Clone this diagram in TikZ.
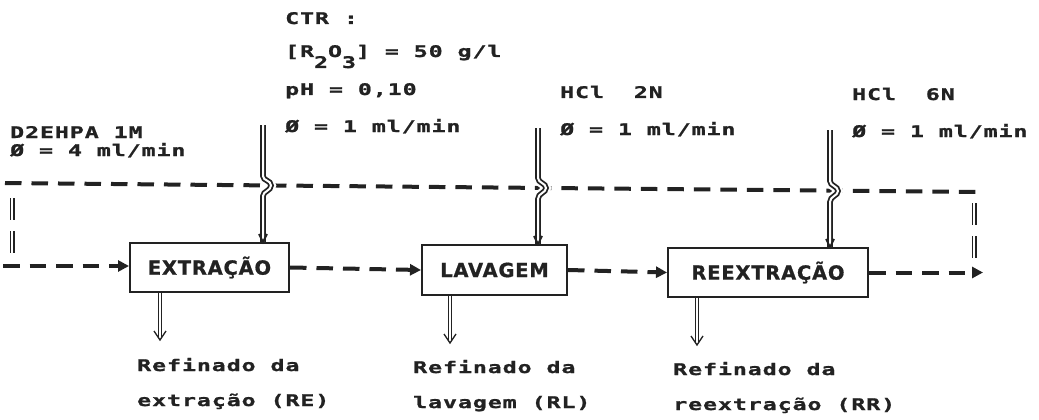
\documentclass[tikz,border=0pt]{standalone}
\usepackage{fontspec}
\usetikzlibrary{arrows.meta,calc}
\newfontfamily\labfont[BoldFont={DejaVu Sans Mono Bold}, BoldFeatures={FakeBold=1.2}, FakeStretch=1.45, LetterSpace=6]{DejaVu Sans Mono}
\newfontfamily\boxfont[BoldFont={DejaVu Sans Bold}, BoldFeatures={FakeBold=0.8}, LetterSpace=4]{DejaVu Sans}
\definecolor{ink}{RGB}{34,34,34}
\begin{document}
\begin{tikzpicture}[x=1pt,y=-1pt,
  lab/.style={font=\labfont\bfseries\fontsize{16}{16}\selectfont, inner sep=0pt, text=ink, anchor=base west},
  unit/.style={draw=ink, line width=2pt, font=\boxfont\bfseries\fontsize{19.5}{19.5}\selectfont, text=ink, inner sep=0pt},
  flow/.style={draw=ink, line width=4pt, dash pattern=on 16.5pt off 10pt, -{Triangle[length=11pt,width=11pt]}},
  flowline/.style={draw=ink, line width=4pt, dash pattern=on 16.5pt off 10pt},
  loopline/.style={draw=ink, double=white, line width=1.6pt, double distance=1.8pt, dash pattern=on 22pt off 11pt},
  pipe/.style={draw=ink, double=white, line width=1.8pt, double distance=2pt},
  bridge/.style={draw=white, line width=10pt},
  pipehead/.style={draw=ink, line width=1.8pt},
  outpipe/.style={draw=ink, double=white, line width=1.1pt, double distance=2.4pt},
  outhead/.style={draw=ink, line width=1.3pt}
]
\useasboundingbox[fill=white] (0,0) rectangle (1039,420);

% process units
\node[unit, minimum width=159pt, minimum height=49pt] (ex) at (209.5,267.5) {EXTRAÇÃO};
\node[unit, minimum width=145pt, minimum height=50pt] (lv) at (494.5,270) {LAVAGEM};
\node[unit, minimum width=200pt, minimum height=49pt] (rx) at (768,272.5) {REEXTRAÇÃO};

% feed labels
\node[lab] (ctr) at (285,24) {CTR :};
\node[lab] (conc) at (285,57) {[R\raisebox{-11pt}{2}O\raisebox{-11pt}{3}] = 50 g/l};
\node[lab] (ph) at (285,95) {pH = 0,10};
\node[lab] (q1) at (285,132) {Ø = 1 ml/min};
\node[lab] (h2) at (560,98) {HCl\ \ 2N};
\node[lab] (q2) at (560,135) {Ø = 1 ml/min};
\node[lab] (h6) at (852,100) {HCl\ \ 6N};
\node[lab] (q3) at (852,137) {Ø = 1 ml/min};
\node[lab] (org) at (10,138) {D2EHPA 1M};
\node[lab] (q0) at (10,156) {Ø = 4 ml/min};

% raffinate labels
\node[lab] (re1) at (137,371) {Refinado da};
\node[lab] (re2) at (137,406) {extração (RE)};
\node[lab] (rl1) at (413,373) {Refinado da};
\node[lab] (rl2) at (413,408) {lavagem (RL)};
\node[lab] (rr1) at (673,375) {Refinado da};
\node[lab] (rr2) at (673,410) {reextração (RR)};

% organic loop
\coordinate (TL) at (5,183);
\coordinate (TR) at (982,192);
\coordinate (LL) at (3,266);
\coordinate (RR) at (983,0);
\draw[flowline] (TL) -- (TR);
\draw[loopline] (12,198) -- (12,253);
\draw[loopline] (974,203) -- (974,263);
\draw[flow] (LL) -- (LL -| ex.west);
\draw[flow] (ex.east) -- (lv.west);
\draw[flow] (lv.east) -- (rx.west);
\draw[flow] (rx.east) -- (rx.east -| RR);

% aqueous feeds with hops over the organic line
\coordinate (i1) at (263,125);
\coordinate (i2) at (538,128);
\coordinate (i3) at (830,130);
\draw[bridge] (263,176) .. controls (263,181) and (271,180) .. (271,185.5) .. controls (271,191) and (263,191) .. (263,196);
\draw[pipe] (i1) -- (263,176) .. controls (263,181) and (271,180) .. (271,185.5) .. controls (271,191) and (263,191) .. (263,196) -- (ex.north -| i1);
\draw[pipehead] ($(ex.north -| i1)+(-4,-8)$) -- (ex.north -| i1) -- ++(4,-8);

\draw[bridge] (538,178) .. controls (538,183) and (546,183) .. (546,188) .. controls (546,193) and (538,193) .. (538,199);
\draw[pipe] (i2) -- (538,178) .. controls (538,183) and (546,183) .. (546,188) .. controls (546,193) and (538,193) .. (538,199) -- (lv.north -| i2);
\draw[pipehead] ($(lv.north -| i2)+(-4,-8)$) -- (lv.north -| i2) -- ++(4,-8);

\draw[bridge] (830,181) .. controls (830,186) and (838,186) .. (838,191) .. controls (838,196) and (830,196) .. (830,202);
\draw[pipe] (i3) -- (830,181) .. controls (830,186) and (838,186) .. (838,191) .. controls (838,196) and (830,196) .. (830,202) -- (rx.north -| i3);
\draw[pipehead] ($(rx.north -| i3)+(-4,-8)$) -- (rx.north -| i3) -- ++(4,-8);

% raffinate outlets
\coordinate (o1) at (160,340);
\coordinate (o2) at (450,343);
\coordinate (o3) at (697,345);
\draw[outpipe] (ex.south -| o1) -- ($(o1)+(0,-3)$);
\draw[outhead] ($(o1)+(-6,-9)$) -- (o1) -- ++(6,-9);
\draw[outpipe] (lv.south -| o2) -- ($(o2)+(0,-3)$);
\draw[outhead] ($(o2)+(-6,-9)$) -- (o2) -- ++(6,-9);
\draw[outpipe] (rx.south -| o3) -- ($(o3)+(0,-3)$);
\draw[outhead] ($(o3)+(-6,-9)$) -- (o3) -- ++(6,-9);
\end{tikzpicture}
\end{document}
